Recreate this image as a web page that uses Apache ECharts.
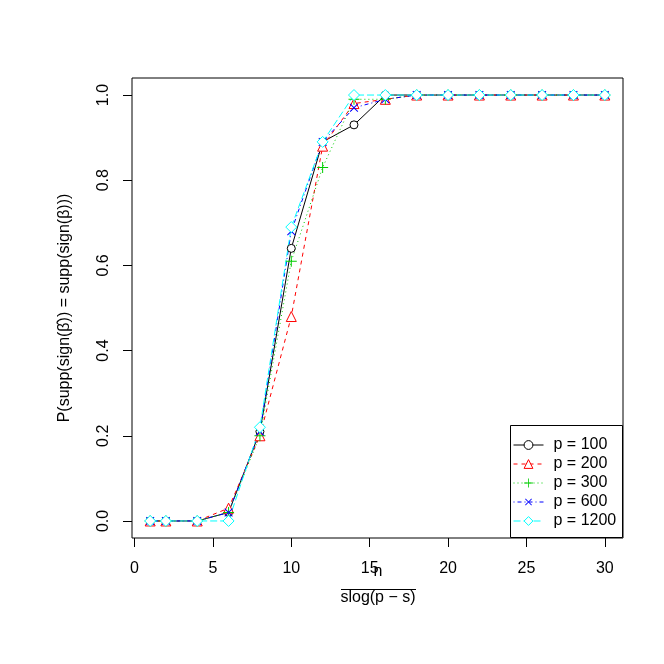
<!DOCTYPE html>
<html><head><meta charset="utf-8">
<script src="https://cdn.jsdelivr.net/npm/echarts@6/dist/echarts.min.js"></script>
<style>html,body{margin:0;padding:0;background:#fff}#c{width:664px;height:664px}</style>
</head><body><div id="c"></div>
<script>
// ---- data ----
const xValues = [1, 2, 4, 6, 8, 10, 12, 14, 16, 18, 20, 22, 24, 26, 28, 30];
const p100  = [0, 0, 0, 0.02, 0.21, 0.64, 0.89, 0.93, 1.00, 1, 1, 1, 1, 1, 1, 1];
const p200  = [0, 0, 0, 0.03, 0.20, 0.48, 0.88, 0.98, 0.99, 1, 1, 1, 1, 1, 1, 1];
const p300  = [0, 0, 0, 0.02, 0.20, 0.61, 0.83, 0.99, 0.99, 1, 1, 1, 1, 1, 1, 1];
const p600  = [0, 0, 0, 0.02, 0.21, 0.68, 0.89, 0.97, 0.99, 1, 1, 1, 1, 1, 1, 1];
const p1200 = [0, 0, 0, 0.00, 0.22, 0.69, 0.89, 1.00, 1.00, 1, 1, 1, 1, 1, 1, 1];
const seriesNames = ['p = 100', 'p = 200', 'p = 300', 'p = 600', 'p = 1200'];
const xTicks = [0, 5, 10, 15, 20, 25, 30];
const yTicks = [0, 0.2, 0.4, 0.6, 0.8, 1.0];
const yTitle = 'P(supp(sign(\u03B2\u0302)) = supp(sign(\u03B2)))';
const xTitleNum = 'n';
const xTitleDen = 'slog(p \u2212 s)';

const FONT = 'Liberation Sans, Arial, Helvetica, sans-serif';
const plusPath = 'path://M-0.09,-1H0.09V-0.09H1V0.09H0.09V1H-0.09V0.09H-1V-0.09H-0.09Z';

const seriesValues = [p100, p200, p300, p600, p1200];
const styles = [
  {color: '#000000', dash: 'solid',      symbol: 'circle',   size: 8,  rot: 0,  open: true},
  {color: '#FF0000', dash: [4, 4],       symbol: 'triangle', size: 10, rot: 0,  open: true},
  {color: '#00CD00', dash: [1, 3],       symbol: plusPath,   size: 11, rot: 0,  open: false},
  {color: '#0000FF', dash: [1, 3, 4, 3], symbol: plusPath,   size: 11, rot: 45, open: false},
  {color: '#00FFFF', dash: [7, 3],       symbol: 'diamond',  size: 11, rot: 0,  open: true}
];

const series = seriesValues.map((vals, i) => ({
  name: seriesNames[i],
  type: 'line',
  data: xValues.map((x, j) => [x, vals[j]]),
  symbol: styles[i].symbol,
  symbolSize: styles[i].size,
  symbolRotate: styles[i].rot,
  showAllSymbol: true,
  animation: false,
  lineStyle: {color: styles[i].color, width: 1, type: styles[i].dash},
  itemStyle: styles[i].open
    ? {color: '#ffffff', borderColor: styles[i].color, borderWidth: 1}
    : {color: styles[i].color, borderWidth: 0}
}));

const chart = echarts.init(document.getElementById('c'));
chart.setOption({
  backgroundColor: '#fff',
  animation: false,
  grid: {left: 132, right: 41, top: 78, bottom: 126, show: true, borderColor: '#000', borderWidth: 1, backgroundColor: 'transparent'},
  xAxis: {
    type: 'value', min: -0.16, max: 31.16,
    axisLine: {show: false, onZero: false},
    splitLine: {show: false},
    axisTick: {show: true, inside: false, length: 9, lineStyle: {color: '#000', width: 1}, customValues: xTicks},
    axisLabel: {show: true, margin: 23, color: '#000', fontSize: 16, fontFamily: FONT, customValues: xTicks, formatter: v => String(v)}
  },
  yAxis: {
    type: 'value', min: -0.04, max: 1.04,
    axisLine: {show: false, onZero: false},
    splitLine: {show: false},
    axisTick: {show: true, inside: false, length: 9, lineStyle: {color: '#000', width: 1}, customValues: yTicks},
    axisLabel: {show: true, margin: 20, rotate: 90, color: '#000', fontSize: 16, fontFamily: FONT, customValues: yTicks, formatter: v => Number(v).toFixed(1)}
  },
  legend: {
    orient: 'vertical', left: 510, top: 425,
    padding: [12, 4, 8, 3],
    itemWidth: 30, itemHeight: 11, itemGap: 3,
    selectedMode: false,
    z: 10,
    lineStyle: {width: 1},
    itemStyle: {borderWidth: 1},
    textStyle: {fontSize: 16, lineHeight: 16, color: '#000', fontFamily: FONT, padding: [0, 0, 0, 5]},
    data: seriesNames
  },
  graphic: [
    {type: 'rect', shape: {x: 510.5, y: 425.5, width: 112, height: 112}, style: {fill: '#fff', stroke: '#000', lineWidth: 1}, z: 5},
    {type: 'text', x: 65, y: 308, rotation: Math.PI / 2, style: {text: yTitle, font: '16px ' + FONT, fill: '#000', textAlign: 'center', textVerticalAlign: 'middle'}},
    {type: 'text', x: 378, y: 572, style: {text: xTitleNum, font: '16px ' + FONT, fill: '#000', textAlign: 'center', textVerticalAlign: 'middle'}},
    {type: 'line', shape: {x1: 341, y1: 589.5, x2: 416, y2: 589.5}, style: {stroke: '#000', lineWidth: 1}},
    {type: 'text', x: 378, y: 598, style: {text: xTitleDen, font: '16px ' + FONT, fill: '#000', textAlign: 'center', textVerticalAlign: 'middle'}}
  ],
  series: series
});
</script>
</body></html>
